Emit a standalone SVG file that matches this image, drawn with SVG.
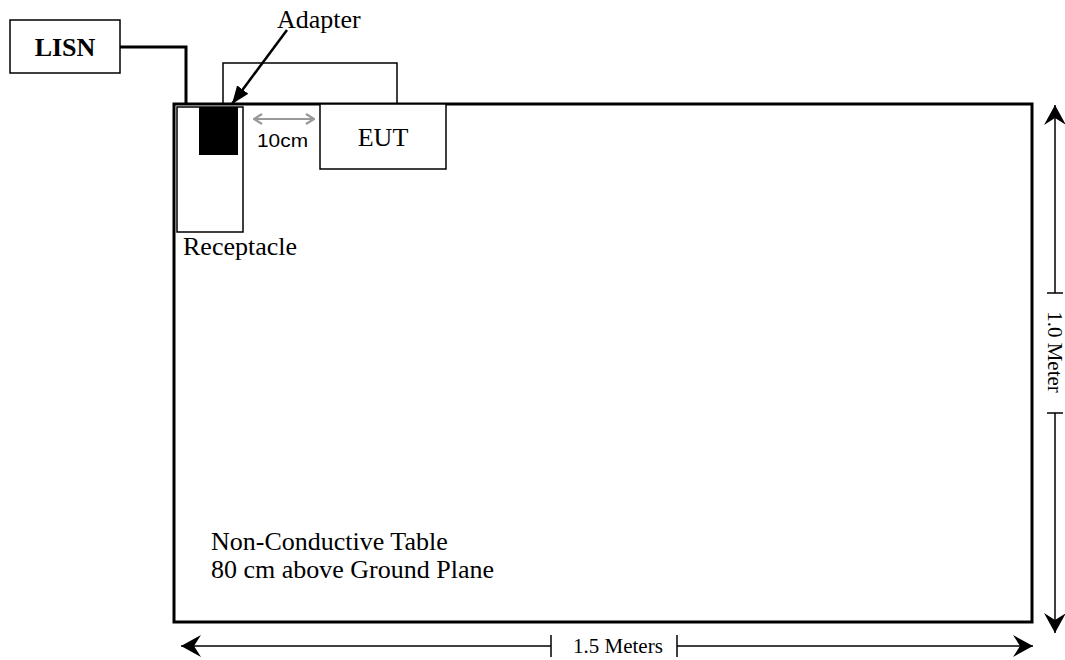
<svg xmlns="http://www.w3.org/2000/svg" width="1065" height="660" viewBox="0 0 1065 660">
<style>
.serif{font-family:"Liberation Serif","Times New Roman",serif;font-size:26px;fill:#000}
.dim{font-family:"Liberation Serif","Times New Roman",serif;font-size:21px;fill:#000}
.box{fill:#fff;stroke:#000;stroke-width:1.5}
.thin{fill:none;stroke:#000;stroke-width:1.5}
.dimline{fill:none;stroke:#000;stroke-width:1.5}
</style>
<defs>
<marker id="dh" viewBox="0 0 20 22" refX="20" refY="11" markerWidth="20" markerHeight="22" markerUnits="userSpaceOnUse" orient="auto">
<path d="M0,0 L20,11 L0,22 L7,11 Z" fill="#000"/>
</marker>
<marker id="tri" viewBox="0 0 18 14" refX="18" refY="7" markerWidth="18" markerHeight="14" markerUnits="userSpaceOnUse" orient="auto">
<path d="M0,0 L18,7 L0,14 Z" fill="#000"/>
</marker>
<marker id="gh" viewBox="0 0 10 12" refX="9" refY="6" markerWidth="10" markerHeight="12" markerUnits="userSpaceOnUse" orient="auto-start-reverse">
<path d="M1,1 L9,6 L1,11" fill="none" stroke="#999" stroke-width="2.2"/>
</marker>
</defs>

<g id="table">
<rect x="174" y="104" width="858" height="518" fill="#fff" stroke="#000" stroke-width="3"/>
<text class="serif" x="211" y="550">Non-Conductive Table</text>
<text class="serif" x="211" y="578">80 cm above Ground Plane</text>
</g>

<g id="lisn">
<rect class="box" x="10" y="20" width="110" height="53"/>
<text class="serif" x="65" y="56" text-anchor="middle" font-weight="bold">LISN</text>
</g>

<g id="receptacle">
<rect class="box" x="177" y="107" width="66" height="125"/>
<text class="serif" x="183" y="255">Receptacle</text>
</g>

<g id="adapter">
<rect x="199" y="107" width="39" height="48" fill="#000"/>
<text class="serif" x="277" y="28">Adapter</text>
</g>

<g id="eut">
<rect class="box" x="320" y="104" width="126" height="65"/>
<text class="serif" x="383" y="146" text-anchor="middle">EUT</text>
</g>

<g id="connectors">
<path d="M120,47 H186 V104" fill="none" stroke="#000" stroke-width="3"/>
<path class="thin" d="M223,104 V63 H397 V104"/>
<line x1="287" y1="30" x2="232" y2="104" stroke="#000" stroke-width="2.5" marker-end="url(#tri)"/>
<line x1="254" y1="119" x2="314" y2="119" stroke="#999" stroke-width="2.2" marker-start="url(#gh)" marker-end="url(#gh)"/>
<text x="257" y="147" font-family="Liberation Sans, Arial, sans-serif" font-size="18" textLength="51" lengthAdjust="spacingAndGlyphs">10cm</text>
</g>

<g id="dimension-width">
<line class="dimline" x1="551" y1="646" x2="181" y2="646" marker-end="url(#dh)"/>
<line class="dimline" x1="551" y1="635" x2="551" y2="657"/>
<line class="dimline" x1="677" y1="646" x2="1033" y2="646" marker-end="url(#dh)"/>
<line class="dimline" x1="677" y1="635" x2="677" y2="657"/>
<text class="dim" x="573" y="653">1.5 Meters</text>
</g>

<g id="dimension-height">
<line class="dimline" x1="1055" y1="293" x2="1055" y2="105" marker-end="url(#dh)"/>
<line class="dimline" x1="1047" y1="293" x2="1063" y2="293"/>
<line class="dimline" x1="1055" y1="413" x2="1055" y2="633" marker-end="url(#dh)"/>
<line class="dimline" x1="1047" y1="413" x2="1063" y2="413"/>
<text class="dim" transform="translate(1048,352) rotate(90)" text-anchor="middle">1.0 Meter</text>
</g>
</svg>
